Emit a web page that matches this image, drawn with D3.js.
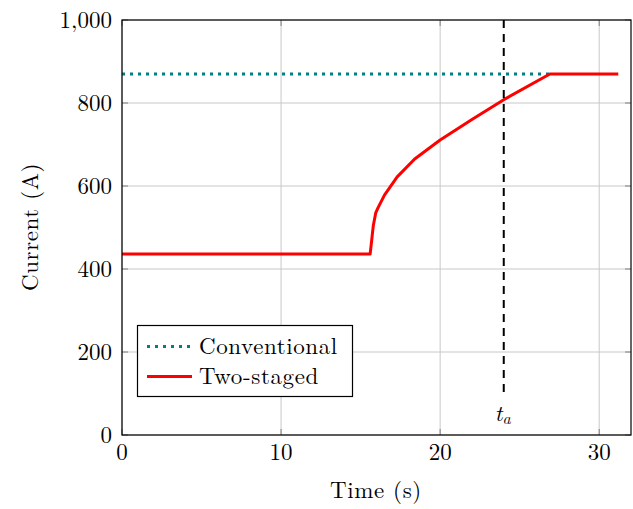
<!DOCTYPE html>
<html><head><meta charset="utf-8">
<script src="https://cdn.jsdelivr.net/npm/d3@7"></script>
<style>
body{margin:0;background:#fff;}
text{font-family:"Latin Modern Roman","CMU Serif","Liberation Serif","DejaVu Serif",serif;fill:#000;}
</style></head><body>
<svg id="c" width="633" height="509"></svg>
<script>
const xTicks=[0,10,20,30];
const yTicks=[0,200,400,600,800,1000];
const conventional=[[0,870],[27,870]];
const twoStaged=[[0,436],[15.6,436],[15.7,470],[15.8,505],[15.95,535],[16.1,548],[16.5,578],[17.3,622],[18.4,665],[20,711],[22,760],[24,808],[26.9,870],[31.2,870]];
const tA=24, tAbottom=100;
const seriesNames=["Conventional","Two-staged"];

const svg=d3.select("#c");
const L=122,R=631,T=20,B=435;
const x=d3.scaleLinear().domain([0,32]).range([L,R]);
const y=d3.scaleLinear().domain([0,1000]).range([B,T]);
const fs=23, ls="0.6px";

// grid
svg.append("g").selectAll("line").data(xTicks).join("line")
 .attr("x1",d=>x(d)).attr("x2",d=>x(d)).attr("y1",T).attr("y2",B)
 .attr("stroke","#c8c8c8").attr("stroke-width",1);
svg.append("g").selectAll("line").data(yTicks).join("line")
 .attr("y1",d=>y(d)).attr("y2",d=>y(d)).attr("x1",L).attr("x2",R)
 .attr("stroke","#c8c8c8").attr("stroke-width",1);

// inward ticks
const tk=6;
const tg=svg.append("g").attr("stroke","#808080").attr("stroke-width",1);
xTicks.forEach(d=>{
 tg.append("line").attr("x1",x(d)).attr("x2",x(d)).attr("y1",B).attr("y2",B-tk);
 tg.append("line").attr("x1",x(d)).attr("x2",x(d)).attr("y1",T).attr("y2",T+tk);
});
yTicks.forEach(d=>{
 tg.append("line").attr("y1",y(d)).attr("y2",y(d)).attr("x1",L).attr("x2",L+tk);
 tg.append("line").attr("y1",y(d)).attr("y2",y(d)).attr("x1",R).attr("x2",R-tk);
});

const line=d3.line().x(d=>x(d[0])).y(d=>y(d[1]));
svg.append("path").attr("d",line(conventional)).attr("fill","none")
 .attr("stroke","#008080").attr("stroke-width",3).attr("stroke-dasharray","3,5");
svg.append("path").attr("d",line(twoStaged)).attr("fill","none")
 .attr("stroke","#ff0000").attr("stroke-width",3).attr("stroke-linejoin","round");

// dashed vertical
svg.append("line").attr("x1",x(tA)).attr("x2",x(tA)).attr("y1",T).attr("y2",y(tAbottom))
 .attr("stroke","#000").attr("stroke-width",2).attr("stroke-dasharray","8,6");
const ta=svg.append("text").attr("x",x(tA)-1).attr("y",421).attr("text-anchor","middle").attr("font-size",fs);
ta.append("tspan").attr("font-style","italic").text("t");
ta.append("tspan").attr("font-style","italic").attr("font-size",16).attr("dy",3).text("a");

// box
svg.append("rect").attr("x",L).attr("y",T).attr("width",R-L).attr("height",B-T)
 .attr("fill","none").attr("stroke","#000").attr("stroke-width",1.2);

// tick labels
svg.append("g").selectAll("text").data(xTicks).join("text")
 .attr("x",d=>x(d)).attr("y",460).attr("text-anchor","middle").attr("font-size",fs).text(d=>d);
const fmt=d3.format(",");
svg.append("g").selectAll("text").data(yTicks).join("text")
 .attr("x",112).attr("y",d=>y(d)).attr("dy","0.33em").attr("text-anchor","end").attr("font-size",fs).text(d=>fmt(d));

// axis titles
svg.append("text").attr("x",376).attr("y",498).attr("text-anchor","middle").attr("font-size",fs).attr("letter-spacing",ls).text("Time (s)");
svg.append("text").attr("transform","translate(38,227) rotate(-90)").attr("text-anchor","middle").attr("font-size",fs).attr("letter-spacing",ls).text("Current (A)");

// legend
const lg=svg.append("g");
lg.append("rect").attr("x",137.5).attr("y",325.5).attr("width",215).attr("height",71)
 .attr("fill","#fff").attr("stroke","#000").attr("stroke-width",1.2);
lg.append("line").attr("x1",147).attr("x2",192).attr("y1",346.5).attr("y2",346.5)
 .attr("stroke","#008080").attr("stroke-width",3).attr("stroke-dasharray","3,5");
lg.append("line").attr("x1",147).attr("x2",192).attr("y1",376.5).attr("y2",376.5)
 .attr("stroke","#ff0000").attr("stroke-width",3);
lg.append("text").attr("x",199).attr("y",346.5).attr("dy","0.33em").attr("font-size",fs).attr("letter-spacing",ls).text(seriesNames[0]);
lg.append("text").attr("x",199).attr("y",376.5).attr("dy","0.33em").attr("font-size",fs).attr("letter-spacing",ls).text(seriesNames[1]);
</script>
</body></html>
